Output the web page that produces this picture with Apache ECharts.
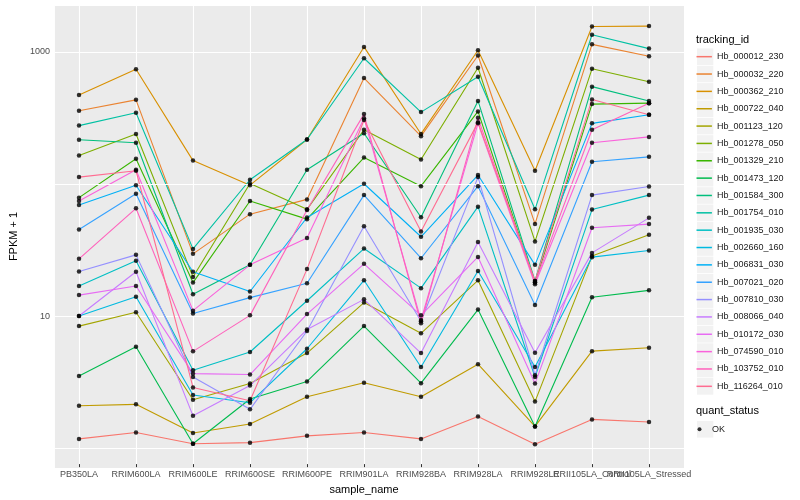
<!DOCTYPE html>
<html><head><meta charset="utf-8">
<script src="https://cdn.jsdelivr.net/npm/echarts@6/dist/echarts.min.js"></script>
<style>html,body{margin:0;padding:0;background:#fff}#c{width:800px;height:500px}</style>
</head><body><div id="c"></div>
<script>
// ---- data ----
const sampleNames = ["PB350LA","RRIM600LA","RRIM600LE","RRIM600SE","RRIM600PE","RRIM901LA","RRIM928BA","RRIM928LA","RRIM928LE","RRII105LA_Control","RRII105LA_Stressed"];
const trackingIds = ["Hb_000012_230","Hb_000032_220","Hb_000362_210","Hb_000722_040","Hb_001123_120","Hb_001278_050","Hb_001329_210","Hb_001473_120","Hb_001584_300","Hb_001754_010","Hb_001935_030","Hb_002660_160","Hb_006831_030","Hb_007021_020","Hb_007810_030","Hb_008066_040","Hb_010172_030","Hb_074590_010","Hb_103752_010","Hb_116264_010"];
const quantStatus = ["OK"];
const yTickLabels = [10, 1000];
const yMinorGrid = [1, 100];

const Hb_000012_230 = [1.10, 1.23, 1.01, 1.03, 1.16, 1.23, 1.10, 1.63, 1.00, 1.55, 1.48];
const Hb_000032_220 = [353, 428, 28.5, 57.3, 74.3, 628, 226, 933, 48.3, 1136, 921];
const Hb_000362_210 = [467, 734, 147, 95.4, 213, 1086, 235, 1023, 123, 1555, 1566];
const Hb_000722_040 = [1.97, 2.02, 1.22, 1.43, 2.31, 2.95, 2.31, 4.09, 1.37, 5.15, 5.46];
const Hb_001123_120 = [8.0, 10.2, 2.19, 2.91, 4.98, 12.1, 7.05, 17.9, 2.12, 27.4, 39.9];
const Hb_001278_050 = [161, 235, 19.0, 98.2, 62.4, 253, 150, 753, 35.5, 739, 589];
const Hb_001329_210 = [76.6, 152, 17.2, 72.2, 52.5, 155, 93.7, 349, 17.2, 397, 404];
const Hb_001473_120 = [3.33, 5.56, 1.01, 2.22, 3.02, 8.01, 2.93, 10.7, 1.37, 13.3, 15.0];
const Hb_001584_300 = [212, 201, 14.0, 23.5, 125, 238, 54.3, 420, 17.7, 540, 420];
const Hb_001754_010 = [272, 341, 31.1, 105, 213, 890, 345, 643, 62.4, 1345, 1054];
const Hb_001935_030 = [16.2, 25.2, 3.68, 5.07, 12.5, 31.3, 15.6, 65.4, 3.27, 62.1, 80.1];
const Hb_002660_160 = [9.55, 13.4, 2.38, 2.08, 5.37, 17.9, 3.90, 21.1, 3.90, 26.9, 30.2];
const Hb_006831_030 = [67.3, 95.4, 20.8, 14.7, 54.0, 97.8, 38.5, 114, 23.5, 283, 329];
const Hb_007021_020 = [43.8, 82.1, 10.0, 13.2, 17.0, 80.1, 26.4, 93.7, 11.6, 144, 157];
const Hb_007810_030 = [20.9, 28.0, 3.27, 1.85, 7.34, 46.4, 8.70, 110, 3.37, 80.1, 93.3];
const Hb_008066_040 = [9.55, 20.8, 1.65, 2.81, 7.53, 12.8, 4.98, 35.1, 5.00, 29.0, 53.7];
const Hb_010172_030 = [13.8, 16.2, 3.47, 3.41, 9.88, 23.9, 9.66, 27.0, 2.91, 45.1, 48.1];
const Hb_074590_010 = [72.2, 125, 10.5, 23.5, 37.7, 309, 8.90, 283, 16.7, 201, 223];
const Hb_103752_010 = [26.1, 63.5, 5.13, 9.66, 61.7, 333, 8.40, 312, 17.2, 253, 404];
const Hb_116264_010 = [110, 123, 2.72, 2.15, 21.8, 300, 42.3, 288, 17.7, 431, 329];

const fpkmPlus1 = [Hb_000012_230, Hb_000032_220, Hb_000362_210, Hb_000722_040, Hb_001123_120, Hb_001278_050, Hb_001329_210, Hb_001473_120, Hb_001584_300, Hb_001754_010, Hb_001935_030, Hb_002660_160, Hb_006831_030, Hb_007021_020, Hb_007810_030, Hb_008066_040, Hb_010172_030, Hb_074590_010, Hb_103752_010, Hb_116264_010];

// ---- styles ----
const palette = ["#F8766D","#EA8331","#D89000","#C09B00","#A3A500","#7CAE00","#39B600","#00BB4E","#00BF7D","#00C1A3","#00BFC4","#00BAE0","#00B0F6","#35A2FF","#9590FF","#C77CFF","#E76BF3","#FA62DB","#FF62BC","#FF6C91"];
const FONT = "'Liberation Sans', Arial, Helvetica, sans-serif";
const YMIN = 0.706, YMAX = 2270;

const chart = echarts.init(document.getElementById('c'), null, {renderer: 'canvas'});

const lineSeries = trackingIds.map((id, i) => ({
  name: id, type: 'line', xAxisIndex: 1, yAxisIndex: 1,
  data: fpkmPlus1[i], symbol: 'none', showSymbol: false, clip: false,
  lineStyle: {color: palette[i], width: 1.1},
  itemStyle: {color: palette[i]},
  z: 2
}));

const pointData = [];
fpkmPlus1.forEach(arr => arr.forEach((v, j) => pointData.push([j, v])));

const gridSeries = {
  name: '_grid', type: 'line', xAxisIndex: 0, yAxisIndex: 0, data: [], z: 1, silent: true,
  markLine: {
    silent: true, symbol: ['none', 'none'], animation: false, label: {show: false},
    lineStyle: {color: '#FFFFFF', width: 1.1, type: 'solid'},
    emphasis: {disabled: true},
    data: yMinorGrid.map(v => ({yAxis: v}))
  }
};

const keyRects = [];
const step = 17.35, first = 56.7;
for (let i = 0; i < trackingIds.length; i++) {
  keyRects.push({type: 'rect', shape: {x: 697, y: first + step * i - 8.3, width: 16.3, height: 16.6}, style: {fill: '#F2F2F2'}, z: 0});
}
keyRects.push({type: 'rect', shape: {x: 697, y: 429.3 - 8.3, width: 16.3, height: 16.6}, style: {fill: '#F2F2F2'}, z: 0});

chart.setOption({
  animation: false,
  textStyle: {fontFamily: FONT},
  title: [
    {text: 'tracking_id', left: 696, top: 34, padding: 0, textStyle: {fontSize: 11, fontWeight: 'normal', color: '#000', fontFamily: FONT}},
    {text: 'quant_status', left: 696, top: 405, padding: 0, textStyle: {fontSize: 11, fontWeight: 'normal', color: '#000', fontFamily: FONT}}
  ],
  graphic: {elements: keyRects},
  grid: [
    {left: 45, right: 116, top: 5, bottom: 32, show: true, backgroundColor: '#EBEBEB', borderWidth: 0, containLabel: false},
    {left: 79, right: 151, top: 5, bottom: 32, show: false, containLabel: false}
  ],
  xAxis: [
    {gridIndex: 0, type: 'value', show: false, min: 0, max: 1},
    {gridIndex: 1, type: 'category', data: sampleNames, boundaryGap: false,
     axisLine: {show: false},
     axisTick: {show: true, length: 3, interval: 0, lineStyle: {color: '#333333', width: 1}},
     axisLabel: {interval: 0, color: '#4D4D4D', fontSize: 9, margin: 6, fontFamily: FONT},
     splitLine: {show: true, interval: 0, lineStyle: {color: '#FFFFFF', width: 1.1}},
     name: 'sample_name', nameLocation: 'middle', nameGap: 14,
     nameTextStyle: {fontSize: 11, color: '#000', fontFamily: FONT}}
  ],
  yAxis: [
    {gridIndex: 0, type: 'log', logBase: 10, min: YMIN, max: YMAX,
     axisLine: {show: false},
     axisTick: {show: false},
     axisLabel: {color: '#4D4D4D', fontSize: 9, margin: 5, fontFamily: FONT, showMinLabel: false, showMaxLabel: false,
       formatter: function (v) {
         for (const t of yTickLabels) { if (Math.abs(Math.log10(v) - Math.log10(t)) < 1e-6) return String(t); }
         return '';
       }},
     splitLine: {show: true, lineStyle: {color: '#FFFFFF', width: 1.1}},
     name: 'FPKM + 1', nameLocation: 'middle', nameGap: 24, nameRotate: 90,
     nameTextStyle: {fontSize: 11, color: '#000', fontFamily: FONT}},
    {gridIndex: 1, type: 'log', logBase: 10, min: YMIN, max: YMAX, show: false,
     splitLine: {show: false}, axisLabel: {show: false}, axisTick: {show: false}, axisLine: {show: false}}
  ],
  legend: [
    {orient: 'vertical', left: 696.5, top: 48, padding: 0, itemGap: 0, itemWidth: 15.4, itemHeight: 1.5, icon: 'rect',
     itemStyle: {borderWidth: 0},
     data: trackingIds.map((id, i) => ({name: id, itemStyle: {color: palette[i], borderWidth: 0}})),
     textStyle: {fontSize: 9, color: '#1A1A1A', lineHeight: 17.35, fontFamily: FONT}},
    {orient: 'vertical', left: 697.5, top: 420.8, padding: 0, itemGap: 0, itemWidth: 15, itemHeight: 4,
     itemStyle: {borderWidth: 0},
     data: quantStatus.map(s => ({name: s, icon: 'circle', itemStyle: {color: '#000', borderWidth: 0}})),
     textStyle: {fontSize: 9, color: '#1A1A1A', lineHeight: 17, fontFamily: FONT}}
  ],
  series: [gridSeries].concat(lineSeries).concat([{
    name: quantStatus[0], type: 'scatter', xAxisIndex: 1, yAxisIndex: 1,
    data: pointData, symbol: 'circle', symbolSize: 4.5, clip: false,
    itemStyle: {color: '#000'}, z: 5
  }])
});
</script>
</body></html>
